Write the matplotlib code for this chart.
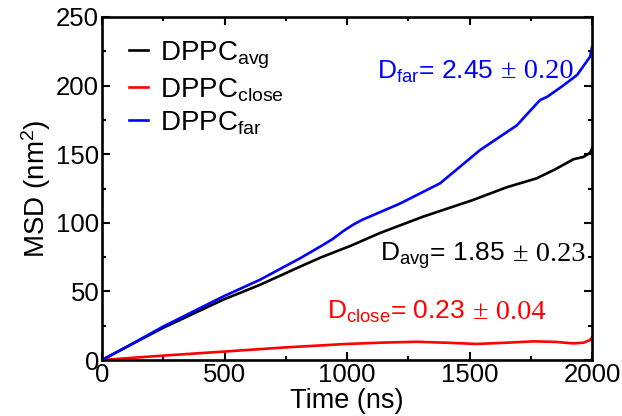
import matplotlib
matplotlib.use("Agg")
import matplotlib.pyplot as plt
from matplotlib.ticker import MultipleLocator

plt.rcParams['font.family'] = ['Liberation Sans', 'DejaVu Sans']
plt.rcParams['mathtext.fontset'] = 'custom'
plt.rcParams['mathtext.rm'] = 'Liberation Sans'
plt.rcParams['mathtext.it'] = 'Liberation Sans:italic'
plt.rcParams['mathtext.bf'] = 'Liberation Sans:bold'

# Data (time in ns, MSD in nm^2)
t_avg = [0, 100, 250, 495, 645, 808, 890, 971, 1012, 1135, 1311, 1514, 1652, 1774, 1850, 1924, 1965, 1992, 2000]
msd_avg = [0, 9.5, 23.5, 44, 54.8, 68, 74.5, 80.2, 83, 92.6, 104.5, 116.6, 125.9, 132.4, 139, 146.3, 148, 151, 154]

t_far = [0, 100, 250, 495, 645, 808, 890, 940, 985, 1025, 1060, 1216, 1380, 1543, 1693, 1788, 1816, 1882, 1939, 1980, 1992, 2000]
msd_far = [0, 9.5, 24.4, 46.3, 58.5, 74.1, 82.6, 88, 94, 98.6, 102, 114, 128.8, 153, 171, 189.5, 191.7, 200, 207.7, 218, 221, 228]

t_close = [0, 250, 495, 750, 999, 1150, 1284, 1420, 1529, 1650, 1760, 1850, 1924, 1965, 1992, 2000]
msd_close = [0, 3.2, 6.1, 9.2, 11.7, 12.7, 13.3, 12.5, 11.7, 12.6, 13.6, 13.2, 12.1, 12.6, 14.5, 16.5]

labels = [r'DPPC$_{\mathrm{avg}}$', r'DPPC$_{\mathrm{close}}$', r'DPPC$_{\mathrm{far}}$']
colors = ['#000000', '#ff0000', '#0000ff']

ann_main = [r'D$_{\mathrm{far}}$= 2.45', r'D$_{\mathrm{avg}}$= 1.85', r'D$_{\mathrm{close}}$= 0.23']
ann_err = ['\u00b1 0.20', '\u00b1 0.23', '\u00b1 0.04']
ann_colors = ['#0000ff', '#000000', '#ff0000']
ann_pos = [(0.561, 0.821), (0.567, 0.289), (0.459, 0.119)]

fig = plt.figure(figsize=(6.22, 4.16), dpi=100)
ax = fig.add_axes([102/622, 1-360/416, 490/622, 343/416])

lw = 1.9
ax.plot(t_avg, msd_avg, color=colors[0], lw=lw, label=labels[0])
ax.plot(t_close, msd_close, color=colors[1], lw=lw, label=labels[1])
ax.plot(t_far, msd_far, color=colors[2], lw=lw, label=labels[2])

ax.set_xlim(0, 2000)
ax.set_ylim(0, 250)
ax.xaxis.set_major_locator(MultipleLocator(500))
ax.xaxis.set_minor_locator(MultipleLocator(250))
ax.yaxis.set_major_locator(MultipleLocator(50))
ax.yaxis.set_minor_locator(MultipleLocator(25))
ax.tick_params(which='both', direction='in', top=True, right=True, width=1.5, labelsize=18.5, colors='black')
ax.tick_params(which='major', length=6, pad=2)
ax.tick_params(which='minor', length=3)
for s in ax.spines.values():
    s.set_linewidth(1.9)

ax.set_xlabel('Time (ns)', fontsize=19.5, labelpad=1)
ax.set_ylabel('MSD (nm$^2$)', fontsize=20, labelpad=2)

leg = ax.legend(loc='upper left', bbox_to_anchor=(0.055, 0.935), frameon=False,
                fontsize=20, handlelength=0.7, handletextpad=0.4,
                labelspacing=0.2, borderpad=0, borderaxespad=0)

fs = 19
fs_err = 20.5
renderer = fig.canvas.get_renderer()
for main, err, col, (x, y) in zip(ann_main, ann_err, ann_colors, ann_pos):
    t1 = ax.text(x, y, main, color=col, fontsize=fs, transform=ax.transAxes,
                 va='baseline', ha='left')
    ext = t1.get_window_extent(renderer=renderer)
    x2 = ax.transAxes.inverted().transform((ext.x1 + 8, 0))[0]
    ax.text(x2, y, err, color=col, fontsize=fs_err, family='Liberation Serif',
            transform=ax.transAxes, va='baseline', ha='left')

fig.savefig('out.png', dpi=100)
